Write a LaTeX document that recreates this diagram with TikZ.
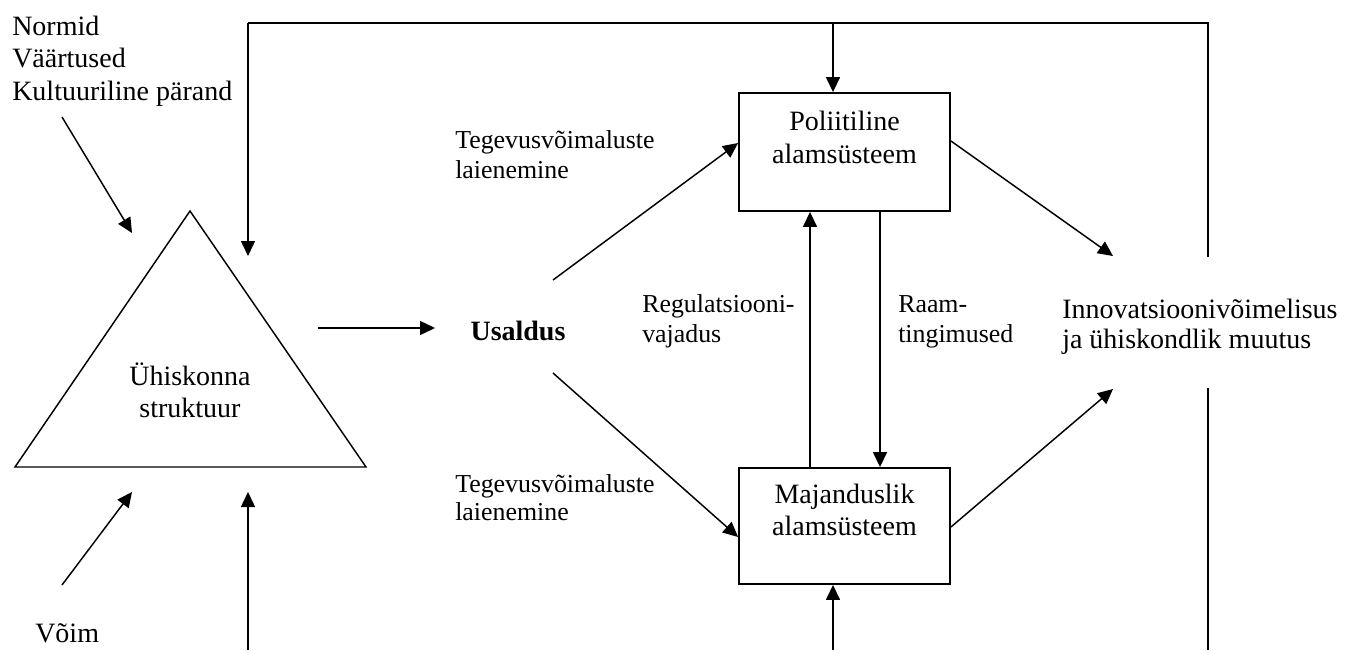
\documentclass[tikz,border=0pt]{standalone}
\usepackage{fontspec}
\setmainfont{Liberation Serif}
\usetikzlibrary{arrows.meta}
\newcommand\Lstack[2]{\vtop{\baselineskip=#1\lineskiplimit=-\maxdimen\lineskip=0pt\halign{##\hfil\cr#2\crcr}}}
\newcommand\Cstack[2]{\vtop{\baselineskip=#1\lineskiplimit=-\maxdimen\lineskip=0pt\halign{\hfil##\hfil\cr#2\crcr}}}
\begin{document}
\begin{tikzpicture}[x=0.75pt,y=-0.75pt,
 conn/.style={line width=1.1pt,-{Triangle[length=11.25pt,width=10.5pt]}},
 plain/.style={line width=1.1pt},
 bigtxt/.style={font=\fontsize{21}{24}\selectfont, inner sep=0pt},
 smalltxt/.style={font=\fontsize{19.4}{22.5}\selectfont, inner sep=0pt},
 sysbox/.style={draw, line width=1.4pt, minimum width=158.25pt, inner sep=0pt}]
\useasboundingbox (0,0) rectangle (1346,650);

% texts (anchored at the baseline of the first line)
\node[bigtxt, anchor=base west] (norm) at (12,35) {\Lstack{24.4pt}{Normid\cr Väärtused\cr Kultuuriline pärand}};
\node[bigtxt, anchor=base west] (voim) at (35,642) {Võim};
\node[bigtxt, anchor=base] (struct) at (190,385) {\Cstack{24pt}{Ühiskonna\cr struktuur}};
\node[font=\fontsize{21}{24}\selectfont\bfseries, inner sep=0pt, anchor=base] (usal) at (518,340) {Usaldus};
\node[smalltxt, anchor=base west] (teg1) at (455,148) {\Lstack{23pt}{Tegevusvõimaluste\cr laienemine}};
\node[smalltxt, anchor=base west] (teg2) at (455,492) {\Lstack{21pt}{Tegevusvõimaluste\cr laienemine}};
\node[smalltxt, anchor=base west] (reg) at (642,312) {\Lstack{22.5pt}{Regulatsiooni-\cr vajadus}};
\node[smalltxt, anchor=base west] (raam) at (898,312) {\Lstack{22.5pt}{Raam-\cr tingimused}};
\node[bigtxt, anchor=base west] (inno) at (1062,318) {\Lstack{22.5pt}{Innovatsioonivõimelisus\cr ja ühiskondlik muutus}};

% subsystems
\node[sysbox, minimum height=88.5pt] (pol) at (844.5,152) {};
\node[bigtxt, anchor=base] (polt) at (844.5,130) {\Cstack{24.75pt}{Poliitiline\cr alamsüsteem}};
\node[sysbox, minimum height=87pt] (maj) at (844.5,526) {};
\node[bigtxt, anchor=base] (majt) at (844.5,503) {\Cstack{24pt}{Majanduslik\cr alamsüsteem}};

% triangle
\coordinate (tA) at (190,211);
\coordinate (tL) at (15,467);
\coordinate (tR) at (366,467);
\draw[line width=1.1pt, line join=miter] (tA) -- (tL) -- (tR) -- cycle;

% free ends
\coordinate (n1) at (62,117);   \coordinate (n2) at (132,233);
\coordinate (v1) at (62,585);   \coordinate (v2) at (132,492);
\coordinate (topL) at (248,23); \coordinate (topR) at (1208,23);
\coordinate (lt) at (248,256);
\coordinate (lb) at (248,650);  \coordinate (lbt) at (248,492);
\coordinate (s1) at (318,328);  \coordinate (s2) at (435,328);
\coordinate (u1) at (553,280);  \coordinate (u2) at (553,373);
\coordinate (i1) at (1113,256); \coordinate (i2) at (1113,389);
\coordinate (r1) at (1208,257); \coordinate (r2) at (1208,388);
\coordinate (rb) at (1208,650);
\coordinate (mb) at (833,650);
\coordinate (pt) at (833,23);

\draw[conn] (n1) -- (n2);
\draw[conn] (v1) -- (v2);
\draw[plain] (r1) -- (topR) -- (topL);
\draw[conn] (topL) -- (lt);
\draw[conn] (pt) -- (pol.north -| pt);
\draw[conn] (lb) -- (lbt);
\draw[conn] (s1) -- (s2);
\draw[conn] (u1) -- (pol.west |- 0,143);
\draw[conn] (u2) -- (maj.west |- 0,537);
\draw[conn] (maj.north -| 810,0) -- (pol.south -| 810,0);
\draw[conn] (pol.south -| 880,0) -- (maj.north -| 880,0);
\draw[conn] (pol.east |- 0,141) -- (i1);
\draw[conn] (maj.east |- 0,527) -- (i2);
\draw[plain] (r2) -- (rb);
\draw[conn] (mb) -- (maj.south -| mb);
\end{tikzpicture}
\end{document}
